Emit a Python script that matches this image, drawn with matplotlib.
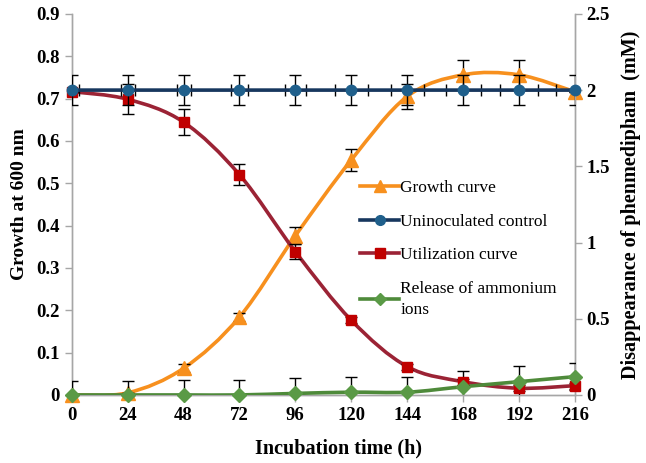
import matplotlib
matplotlib.use("Agg")
import matplotlib.pyplot as plt
from matplotlib.path import Path
from matplotlib.patches import PathPatch
from matplotlib.lines import Line2D

hours = [0, 24, 48, 72, 96, 120, 144, 168, 192, 216]

# growth (OD 600 nm, left axis)
growth = [0.0, 0.005, 0.063, 0.184, 0.376, 0.555, 0.705, 0.756, 0.756, 0.716]
growth_err = [0.0, 0.0, 0.01, 0.01, 0.02, 0.027, 0.03, 0.036, 0.036, 0.0]

# phenmedipham (mM, right axis)
control = [2.0] * 10
control_err = [0.1] * 10
control_xerr = [3, 3, 3, 3.5, 4.5, 7, 7, 7.5, 8, 8]
utilization = [1.99, 1.94, 1.79, 1.445, 0.94, 0.49, 0.186, 0.087, 0.044, 0.061]
utilization_err = [0.0, 0.1, 0.085, 0.07, 0.05, 0.02, 0.02, 0.02, 0.02, 0.02]
ammonium = [0.0, 0.0, 0.0, 0.0, 0.01, 0.018, 0.018, 0.054, 0.087, 0.12]
ammonium_err = [0.09, 0.09, 0.1, 0.1, 0.1, 0.1, 0.1, 0.1, 0.1, 0.09]

ORANGE = "#F7901E"
BLUE_LINE = "#17375E"
BLUE_MARK = "#1F5F8B"
RED_LINE = "#9B2335"
RED_MARK = "#C00000"
GREEN_LINE = "#4E8A3A"
GREEN_MARK = "#5A9A46"
SPINE = "#A6A6A6"
SERIF = ["Liberation Serif", "DejaVu Serif"]


def smooth_path(x, y):
    """Excel-like smoothed line: cubic Bezier through every point."""
    n = len(x)
    verts = [(x[0], y[0])]
    codes = [Path.MOVETO]
    for i in range(n - 1):
        xa, ya = (x[i - 1], y[i - 1]) if i > 0 else (x[i], y[i])
        xb, yb = (x[i + 2], y[i + 2]) if i + 2 < n else (x[i + 1], y[i + 1])
        c1 = (x[i] + (x[i + 1] - xa) / 6, y[i] + (y[i + 1] - ya) / 6)
        c2 = (x[i + 1] - (xb - x[i]) / 6, y[i + 1] - (yb - y[i]) / 6)
        verts += [c1, c2, (x[i + 1], y[i + 1])]
        codes += [Path.CURVE4] * 3
    return Path(verts, codes)


def draw_series(ax, y, err, line_c, mark_c, marker, ms, xerr=None, z=3,
                err_below=False):
    ez = z - 0.5 if err_below else z + 0.5
    ax.add_patch(PathPatch(smooth_path(hours, y), fill=False, edgecolor=line_c,
                           lw=2.6, zorder=z, capstyle="round"))
    ax.errorbar(hours, y, yerr=err, xerr=xerr, fmt="none", ecolor="black",
                elinewidth=1.0, capsize=4, capthick=1.0, zorder=ez)
    ax.plot(hours, y, linestyle="none", marker=marker, ms=ms, color=mark_c,
            markeredgecolor=mark_c, zorder=z + 1, clip_on=False)


fig = plt.figure(figsize=(6.46, 4.63), dpi=100)
ax1 = fig.add_axes([0.111, 0.147, 0.779, 0.823])
ax2 = ax1.twinx()

draw_series(ax1, growth, growth_err, ORANGE, ORANGE, "^", 10)
draw_series(ax2, utilization, utilization_err, RED_LINE, RED_MARK, "s", 7.5)
draw_series(ax2, ammonium, ammonium_err, GREEN_LINE, GREEN_MARK, "D", 7)
draw_series(ax2, control, control_err, BLUE_LINE, BLUE_MARK, "o", 7.5,
            xerr=control_xerr, z=6, err_below=True)

ax1.set_xlim(0, 216)
ax1.set_ylim(0, 0.9)
ax2.set_ylim(0, 2.5)
ax1.set_xticks(hours)
ax1.set_yticks([i / 10 for i in range(10)])
ax1.set_yticklabels(["0"] + [f"{i / 10:.1f}" for i in range(1, 10)])
ax2.set_yticks([0, 0.5, 1, 1.5, 2, 2.5])
ax2.set_yticklabels(["0", "0.5", "1", "1.5", "2", "2.5"])

for ax in (ax1, ax2):
    ax.spines["top"].set_visible(False)
    for side in ("left", "right", "bottom"):
        ax.spines[side].set_color(SPINE)
        ax.spines[side].set_linewidth(1.0)
    ax.tick_params(colors=SPINE, length=5, width=1.0, labelcolor="black")
    for lab in ax.get_xticklabels() + ax.get_yticklabels():
        lab.set_family(SERIF)
        lab.set_fontweight("bold")
        lab.set_fontsize(13.5)

ax1.set_xlabel("Incubation time (h)", family=SERIF, fontweight="bold",
               fontsize=14.5, labelpad=9)
ax1.xaxis.set_label_coords(0.53, -0.115)
ax1.set_ylabel("Growth at 600 nm", family=SERIF, fontweight="bold",
               fontsize=14, labelpad=6)
ax2.set_ylabel("Disappearance of phenmedipham  (mM)", family=SERIF,
               fontweight="bold", fontsize=14.5, labelpad=8)

handles = [
    Line2D([], [], color=ORANGE, lw=2.6, marker="^", ms=9, mfc=ORANGE, mec=ORANGE),
    Line2D([], [], color=BLUE_LINE, lw=2.6, marker="o", ms=7, mfc=BLUE_MARK, mec=BLUE_MARK),
    Line2D([], [], color=RED_LINE, lw=2.6, marker="s", ms=7, mfc=RED_MARK, mec=RED_MARK),
    Line2D([], [], color=GREEN_LINE, lw=2.6, marker="D", ms=6, mfc=GREEN_MARK, mec=GREEN_MARK),
]
labels = ["Growth curve", "Uninoculated control", "Utilization curve",
          "Release of ammonium\nions"]
leg = ax2.legend(handles, labels, loc="upper left", bbox_to_anchor=(0.56, 0.582),
                 frameon=False, prop={"family": SERIF, "size": 12.5},
                 handlelength=2.2, handletextpad=0.1, labelspacing=1.0,
                 borderaxespad=0)
leg.get_texts()[3].set_linespacing(1.45)

fig.savefig("out.png", dpi=100)
